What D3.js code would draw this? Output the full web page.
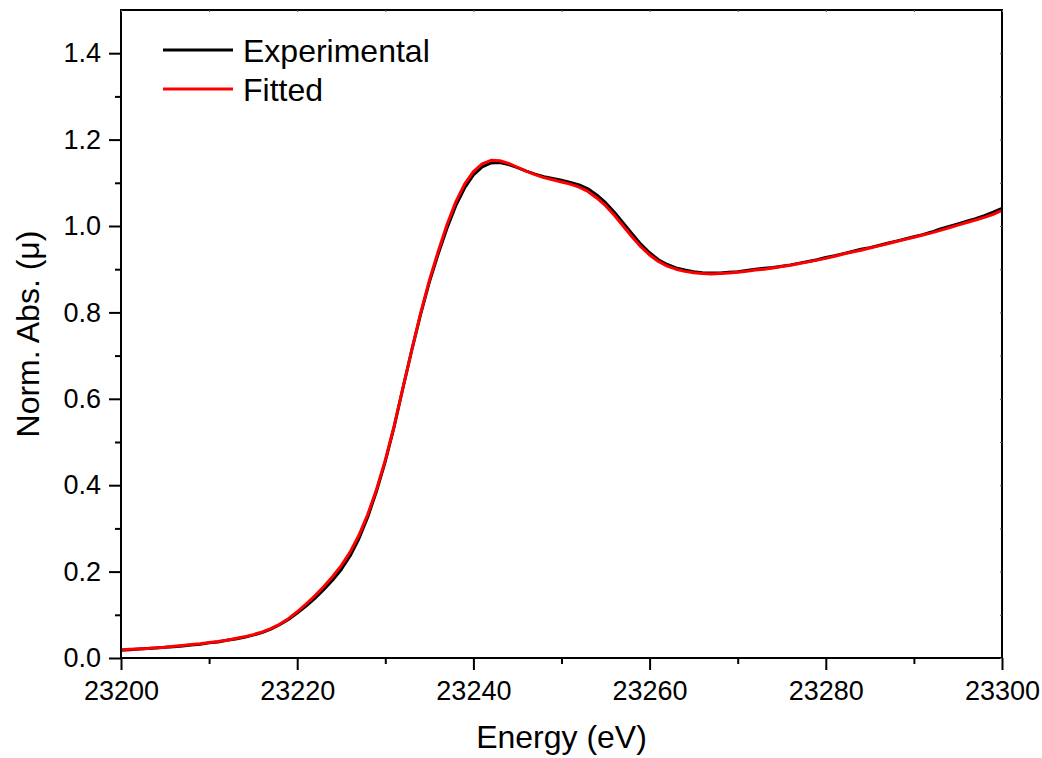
<!DOCTYPE html>
<html>
<head>
<meta charset="utf-8">
<script src="https://cdn.jsdelivr.net/npm/d3@7"></script>
<style>
  html, body { margin: 0; padding: 0; background: #fff; }
  svg { display: block; font-family: "Liberation Sans", Arial, sans-serif; }
</style>
</head>
<body>
<svg id="chart" width="1042" height="758"></svg>
<script>
// Photon energy grid (eV)
const energy = [
  23200,23201,23202,23203,23204,23205,23206,23207,23208,23209,
  23210,23211,23212,23213,23214,23215,23216,23217,23218,23219,
  23220,23221,23222,23223,23224,23225,23226,23227,23228,23229,
  23230,23231,23232,23233,23234,23235,23236,23237,23238,23239,
  23240,23241,23242,23243,23244,23245,23246,23247,23248,23249,
  23250,23251,23252,23253,23254,23255,23256,23257,23258,23259,
  23260,23261,23262,23263,23264,23265,23266,23267,23268,23269,
  23270,23271,23272,23273,23274,23275,23276,23277,23278,23279,
  23280,23281,23282,23283,23284,23285,23286,23287,23288,23289,
  23290,23291,23292,23293,23294,23295,23296,23297,23298,23299,
  23300
];

// Measured normalized absorption
const experimental = [
  0.018,0.019,0.021,0.022,0.023,0.025,0.026,0.028,0.030,0.032,
  0.035,0.037,0.041,0.044,0.048,0.053,0.059,0.067,0.077,0.089,
  0.104,0.120,0.138,0.158,0.180,0.205,0.236,0.276,0.326,0.386,
  0.455,0.535,0.625,0.712,0.795,0.870,0.935,0.995,1.047,1.088,
  1.118,1.137,1.146,1.147,1.142,1.135,1.127,1.120,1.114,1.110,
  1.106,1.101,1.095,1.086,1.072,1.054,1.032,1.007,0.982,0.958,
  0.938,0.922,0.911,0.903,0.898,0.894,0.892,0.891,0.891,0.893,
  0.894,0.897,0.900,0.902,0.904,0.907,0.910,0.914,0.918,0.922,
  0.927,0.931,0.936,0.941,0.946,0.950,0.955,0.960,0.965,0.970,
  0.975,0.980,0.986,0.993,0.999,1.005,1.011,1.017,1.024,1.032,
  1.041
];

// Fitted spectrum
const fitted = [
  0.019,0.020,0.021,0.022,0.024,0.025,0.027,0.029,0.031,0.033,
  0.036,0.038,0.041,0.045,0.049,0.054,0.060,0.068,0.078,0.091,
  0.107,0.125,0.144,0.165,0.188,0.214,0.245,0.284,0.332,0.390,
  0.458,0.537,0.625,0.713,0.797,0.874,0.941,1.003,1.056,1.097,
  1.126,1.144,1.152,1.151,1.145,1.136,1.127,1.119,1.112,1.107,
  1.102,1.097,1.090,1.080,1.065,1.047,1.025,1.000,0.975,0.952,
  0.933,0.918,0.907,0.900,0.895,0.892,0.890,0.889,0.890,0.891,
  0.893,0.895,0.898,0.900,0.903,0.906,0.909,0.913,0.917,0.921,
  0.925,0.930,0.935,0.940,0.944,0.949,0.954,0.959,0.964,0.969,
  0.974,0.979,0.984,0.990,0.996,1.002,1.008,1.014,1.020,1.027,
  1.036
];

const xMajorTicks = [23200, 23220, 23240, 23260, 23280, 23300];
const xMinorTicks = [23210, 23230, 23250, 23270, 23290];
const yMajorTicks = [0.0, 0.2, 0.4, 0.6, 0.8, 1.0, 1.2, 1.4];
const yMinorTicks = [0.1, 0.3, 0.5, 0.7, 0.9, 1.1, 1.3];

const seriesNames = ["Experimental", "Fitted"];
const seriesColors = ["#000000", "#ff0000"];

const svg = d3.select("#chart");
const margin = { left: 121, right: 40, top: 10, bottom: 100 };
const W = 1042, H = 758;
const x = d3.scaleLinear().domain([23200, 23300]).range([margin.left, W - margin.right]);
const y = d3.scaleLinear().domain([0, 1.5]).range([H - margin.bottom, margin.top]);

const x0 = x.range()[0], x1 = x.range()[1];
const y0 = y.range()[0], y1 = y.range()[1];

// Curves: measured first, fit drawn over it
const line = d3.line().x(d => x(d[0])).y(d => y(d[1]));
const series = [experimental, fitted];
series.forEach((vals, i) => {
  svg.append("path")
    .datum(energy.map((e, k) => [e, vals[k]]))
    .attr("fill", "none")
    .attr("stroke", seriesColors[i])
    .attr("stroke-width", 3)
    .attr("stroke-linejoin", "round")
    .attr("d", line);
});

// Frame
svg.append("rect")
  .attr("x", x0).attr("y", y1)
  .attr("width", x1 - x0).attr("height", y0 - y1)
  .attr("fill", "none").attr("stroke", "#000").attr("stroke-width", 2);

function styleAxis(g) {
  g.select(".domain").remove();
  g.selectAll(".tick line").attr("stroke", "#000").attr("stroke-width", 2);
  g.selectAll(".tick text").attr("fill", "#000").style("font-size", "27px")
    .style("font-family", "'Liberation Sans', Arial, sans-serif");
}

// Bottom axis
svg.append("g").attr("transform", `translate(0,${y0})`)
  .call(d3.axisBottom(x).tickValues(xMajorTicks).tickSize(12).tickPadding(11).tickFormat(d3.format("d")))
  .call(styleAxis);
svg.append("g").attr("transform", `translate(0,${y0})`)
  .call(d3.axisBottom(x).tickValues(xMinorTicks).tickSize(6).tickFormat(""))
  .call(styleAxis);

// Left axis
svg.append("g").attr("transform", `translate(${x0},0)`)
  .call(d3.axisLeft(y).tickValues(yMajorTicks).tickSize(12).tickPadding(8).tickFormat(d3.format(".1f")))
  .call(styleAxis);
svg.append("g").attr("transform", `translate(${x0},0)`)
  .call(d3.axisLeft(y).tickValues(yMinorTicks).tickSize(6).tickFormat(""))
  .call(styleAxis);

// Small inward ticks on top and right edges
const thin = g => { g.select(".domain").remove(); g.selectAll(".tick line").attr("stroke", "#555").attr("stroke-width", 1); };
svg.append("g").attr("transform", `translate(0,${y1})`)
  .call(d3.axisBottom(x).tickValues(xMajorTicks.concat(xMinorTicks)).tickSize(2).tickFormat(""))
  .call(thin);
svg.append("g").attr("transform", `translate(${x1},0)`)
  .call(d3.axisLeft(y).tickValues(yMajorTicks.concat(yMinorTicks)).tickSize(2).tickFormat(""))
  .call(thin);

// Axis titles
svg.append("text")
  .attr("x", (x0 + x1) / 2).attr("y", 748)
  .attr("text-anchor", "middle")
  .style("font-size", "32px")
  .text("Energy (eV)");
svg.append("text")
  .attr("transform", `translate(39,${(y0 + y1) / 2}) rotate(-90)`)
  .attr("text-anchor", "middle")
  .style("font-size", "32px")
  .text("Norm. Abs. (μ)");

// Legend
const legend = svg.append("g");
seriesNames.forEach((name, i) => {
  const ly = 50 + i * 39;
  legend.append("line")
    .attr("x1", 163).attr("x2", 233).attr("y1", ly).attr("y2", ly)
    .attr("stroke", seriesColors[i]).attr("stroke-width", 3);
  legend.append("text")
    .attr("x", 243).attr("y", ly + 12)
    .style("font-size", "32px")
    .text(name);
});
</script>
</body>
</html>
